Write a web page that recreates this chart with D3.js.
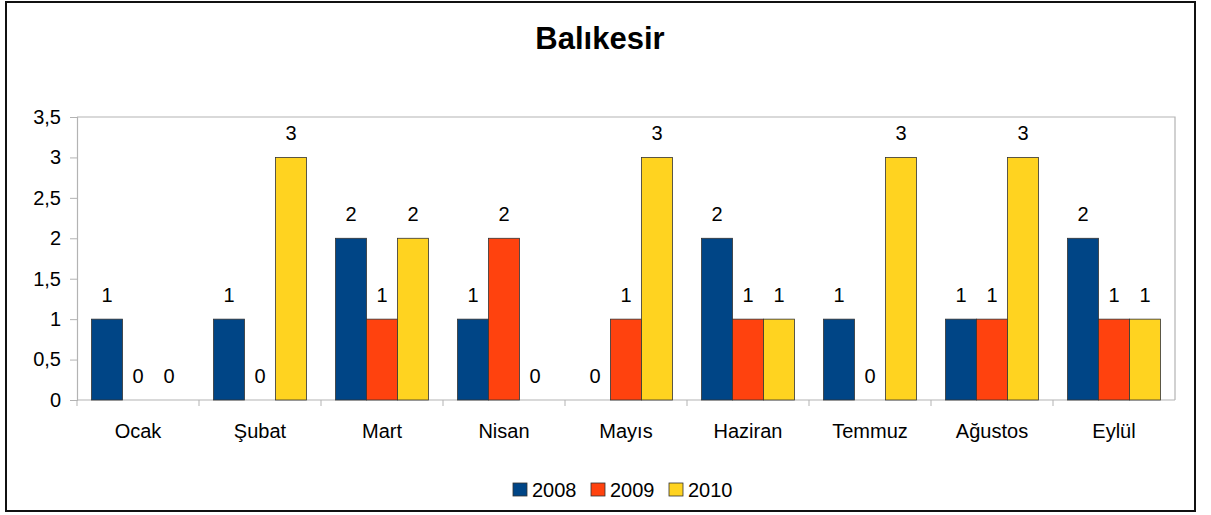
<!DOCTYPE html>
<html>
<head>
<meta charset="utf-8">
<script src="https://cdn.jsdelivr.net/npm/d3@7"></script>
<style>
  body { margin: 0; background: #fff; }
  svg { display: block; font-family: "Liberation Sans", Arial, sans-serif; }
</style>
</head>
<body>
<svg id="chart" width="1211" height="515"></svg>
<script>
// data
var months = ["Ocak", "Şubat", "Mart", "Nisan", "Mayıs", "Haziran", "Temmuz", "Ağustos", "Eylül"];
var years = ["2008", "2009", "2010"];
var v2008 = [1, 1, 2, 1, 0, 2, 1, 1, 2];
var v2009 = [0, 0, 1, 2, 1, 1, 0, 1, 1];
var v2010 = [0, 3, 2, 0, 3, 1, 3, 3, 1];
var yTicks = [0, 0.5, 1, 1.5, 2, 2.5, 3, 3.5];
var yTickLabels = ["0", "0,5", "1", "1,5", "2", "2,5", "3", "3,5"];
var colors = ["#004586", "#ff420e", "#ffd320"];

var series = [v2008, v2009, v2010];

var svg = d3.select("#chart");

// outer frame
svg.append("rect")
  .attr("x", 6).attr("y", 2)
  .attr("width", 1189).attr("height", 509)
  .attr("fill", "#fff")
  .attr("stroke", "#111")
  .attr("stroke-width", 2);

svg.append("text")
  .attr("x", 600).attr("y", 49)
  .attr("text-anchor", "middle")
  .attr("font-size", 31)
  .attr("font-weight", "bold")
  .text("Balıkesir");

var pLeft = 77, pRight = 1175, pTop = 117, pBottom = 400;

var x0 = d3.scaleBand().domain(months).range([pLeft, pRight]);
var x1 = d3.scaleBand().domain(years).range([0, 93]);
var y = d3.scaleLinear().domain([0, 3.5]).range([pBottom, pTop]);

var g = svg.append("g");

// plot frame (top and right)
g.append("path")
  .attr("d", "M" + pLeft + "," + pTop + "H" + pRight + "V" + pBottom)
  .attr("fill", "none")
  .attr("stroke", "#b3b3b3")
  .attr("stroke-width", 1.2);

// y axis
var yAxis = g.append("g")
  .attr("transform", "translate(" + pLeft + ",0)")
  .call(d3.axisLeft(y).tickValues(yTicks).tickSize(7).tickPadding(9)
    .tickFormat(function(d, i) { return yTickLabels[i]; }));
yAxis.select(".domain").attr("stroke", "#b3b3b3").attr("stroke-width", 1.2);
yAxis.selectAll(".tick line").attr("stroke", "#b3b3b3");
yAxis.selectAll("text").attr("font-size", 20).attr("fill", "#000")
  .attr("font-family", "Liberation Sans, Arial, sans-serif");

// x axis with ticks on band edges
var xAxis = g.append("g")
  .attr("transform", "translate(0," + pBottom + ")");
xAxis.append("line")
  .attr("x1", pLeft).attr("x2", pRight)
  .attr("stroke", "#b3b3b3").attr("stroke-width", 1.2);
xAxis.selectAll(".edge")
  .data(months)
  .enter().append("line")
  .attr("x1", function(d) { return x0(d); })
  .attr("x2", function(d) { return x0(d); })
  .attr("y1", 0).attr("y2", 6)
  .attr("stroke", "#b3b3b3");
xAxis.selectAll(".cat")
  .data(months)
  .enter().append("text")
  .attr("x", function(d) { return x0(d) + x0.bandwidth() / 2; })
  .attr("y", 38)
  .attr("text-anchor", "middle")
  .attr("font-size", 20)
  .text(function(d) { return d; });

// bars
var groups = g.selectAll(".grp")
  .data(months)
  .enter().append("g")
  .attr("transform", function(d) { return "translate(" + (x0(d) + (x0.bandwidth() - 93) / 2) + ",0)"; });

function rows(d, i) {
  return years.map(function(yr, k) { return {key: yr, k: k, value: series[k][i]}; });
}

groups.selectAll("rect")
  .data(function(d, i) { return rows(d, i).filter(function(r) { return r.value > 0; }); })
  .enter().append("rect")
  .attr("x", function(d) { return x1(d.key); })
  .attr("y", function(d) { return y(d.value); })
  .attr("width", x1.bandwidth())
  .attr("height", function(d) { return pBottom - y(d.value); })
  .attr("fill", function(d) { return colors[d.k]; })
  .attr("stroke", "#333")
  .attr("stroke-width", 0.8);

groups.selectAll("text")
  .data(rows)
  .enter().append("text")
  .attr("x", function(d) { return x1(d.key) + x1.bandwidth() / 2; })
  .attr("y", function(d) { return y(d.value) - 17; })
  .attr("text-anchor", "middle")
  .attr("font-size", 20)
  .text(function(d) { return d.value; });

// legend
var legend = svg.append("g")
  .selectAll("g")
  .data(years)
  .enter().append("g")
  .attr("transform", function(d, i) { return "translate(" + (513 + i * 78) + ",483)"; });

legend.append("rect")
  .attr("width", 14).attr("height", 13)
  .attr("fill", function(d, i) { return colors[i]; })
  .attr("stroke", "#333")
  .attr("stroke-width", 0.8);

legend.append("text")
  .attr("x", 19).attr("y", 14)
  .attr("font-size", 20)
  .text(function(d) { return d; });
</script>
</body>
</html>
